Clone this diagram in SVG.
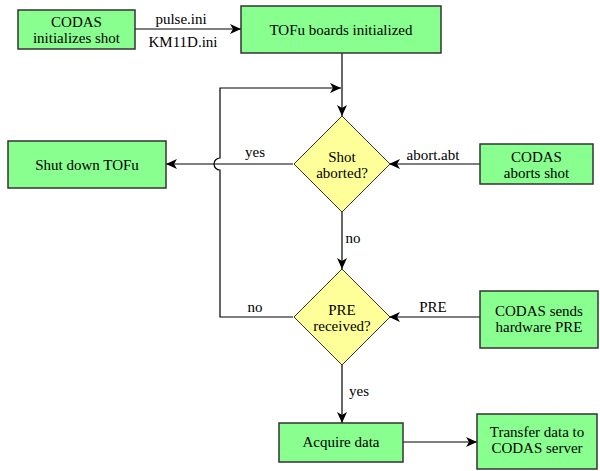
<svg xmlns="http://www.w3.org/2000/svg" width="600" height="471" viewBox="0 0 600 471">
<style>
.box{fill:#88ff8f;stroke:#333;stroke-width:1.5}
.dia{fill:#ffff99;stroke:#333;stroke-width:1}
.ln{fill:none;stroke:#000;stroke-width:1.2}
.t{font-family:'Liberation Serif','DejaVu Serif',serif;font-size:15px;fill:#000;text-anchor:middle}
</style>
<defs>
<marker id="ah" markerWidth="12" markerHeight="10" refX="11" refY="5" orient="auto" markerUnits="userSpaceOnUse">
<path d="M0,0 L11,5 L0,10 L3,5 Z" fill="#000"/>
</marker>
</defs>
<rect width="600" height="471" fill="#fff"/>
<g id="connectors">
<path class="ln" d="M135,29 H241" marker-end="url(#ah)"/>
<path class="ln" d="M342,53 V116" marker-end="url(#ah)"/>
<path class="ln" d="M293,317 H220 V170 A6,6 0 0 1 220,158 V88 H341" marker-end="url(#ah)"/>
<path class="ln" d="M293,164 H166" marker-end="url(#ah)"/>
<path class="ln" d="M480,164 H389" marker-end="url(#ah)"/>
<path class="ln" d="M342,212 V269" marker-end="url(#ah)"/>
<path class="ln" d="M480,317 H389" marker-end="url(#ah)"/>
<path class="ln" d="M342,365 V423" marker-end="url(#ah)"/>
<path class="ln" d="M403,442 H477" marker-end="url(#ah)"/>
<g class="t">
<text x="181" y="24">pulse.ini</text>
<text x="183" y="47">KM11D.ini</text>
<text x="255" y="157">yes</text>
<text x="433" y="160">abort.abt</text>
<text x="353" y="243">no</text>
<text x="255" y="312">no</text>
<text x="433" y="312">PRE</text>
<text x="359" y="396">yes</text>
</g>
</g>
<g id="codas-init">
<rect class="box" x="18" y="10" width="117" height="39"/>
<text class="t" x="76.5" y="27">CODAS</text>
<text class="t" x="76.5" y="43">initializes shot</text>
</g>
<g id="tofu-init">
<rect class="box" x="241" y="6" width="200" height="47"/>
<text class="t" x="341" y="35">TOFu boards initialized</text>
</g>
<g id="shot-aborted">
<polygon class="dia" points="342,116 390,164 342,212 294,164"/>
<text class="t" x="342" y="162">Shot</text>
<text class="t" x="342" y="178">aborted?</text>
</g>
<g id="shutdown">
<rect class="box" x="8" y="141" width="158" height="47"/>
<text class="t" x="87" y="170">Shut down TOFu</text>
</g>
<g id="codas-abort">
<rect class="box" x="480" y="144" width="113" height="40"/>
<text class="t" x="536.5" y="162">CODAS</text>
<text class="t" x="536.5" y="178">aborts shot</text>
</g>
<g id="pre-received">
<polygon class="dia" points="342,269 390,317 342,365 294,317"/>
<text class="t" x="342" y="315">PRE</text>
<text class="t" x="342" y="331">received?</text>
</g>
<g id="codas-pre">
<rect class="box" x="480" y="291" width="118" height="57"/>
<text class="t" x="539" y="316">CODAS sends</text>
<text class="t" x="539" y="332">hardware PRE</text>
</g>
<g id="acquire">
<rect class="box" x="279" y="423" width="124" height="39"/>
<text class="t" x="341" y="447">Acquire data</text>
</g>
<g id="transfer">
<rect class="box" x="477" y="414" width="120" height="55"/>
<text class="t" x="537" y="437">Transfer data to</text>
<text class="t" x="537" y="453">CODAS server</text>
</g>
</svg>
